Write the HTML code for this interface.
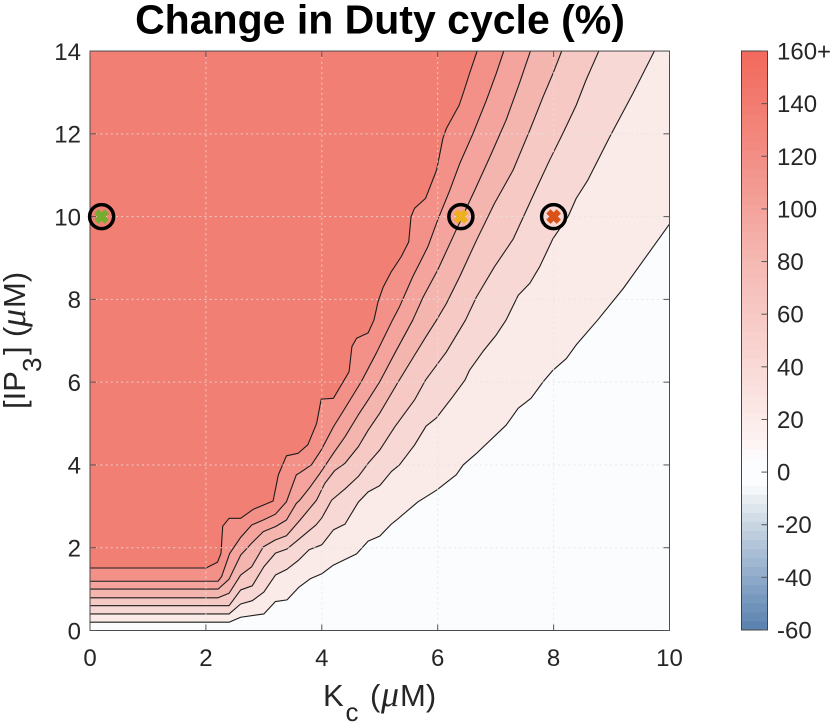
<!DOCTYPE html>
<html lang="en">
<head>
<meta charset="utf-8">
<title>Change in Duty cycle (%)</title>
<style>
html,body{margin:0;padding:0;background:#fff;width:830px;height:724px;overflow:hidden}
svg{display:block}
text{font-family:"Liberation Sans",sans-serif;fill:#262626}
.mu{font-family:"Liberation Serif",serif;font-style:italic}
</style>
</head>
<body>
<svg id="chart" xmlns="http://www.w3.org/2000/svg" width="830" height="724" viewBox="0 0 830 724">
  <text x="380" y="33.5" text-anchor="middle" font-size="41" font-weight="bold" style="fill:#000">Change in Duty cycle (%)</text>
  <rect x="90" y="51" width="579.5" height="579.5" fill="#fbfcfe"/>
  <g id="bands"></g>
  <g id="lines"></g>
  <g id="grid"></g>
  <g id="axes"></g>
  <g id="markers"></g>
  <g id="colorbar"></g>
  <text y="706" font-size="31"><tspan x="323">K</tspan><tspan x="345.5" font-size="26" dy="15">c</tspan><tspan x="370" dy="-15">(</tspan><tspan x="381" class="mu" font-size="36">μ</tspan><tspan x="400">M)</tspan></text>
  <text transform="translate(25,408) rotate(-90)" y="0" font-size="31"><tspan x="-1">[IP</tspan><tspan x="36" font-size="26" dy="16">3</tspan><tspan x="53" dy="-16">]</tspan><tspan x="71">(</tspan><tspan x="81" class="mu" font-size="36">μ</tspan><tspan x="100">M)</tspan></text>
</svg>
<script>
var xTicks = [0, 2, 4, 6, 8, 10];
var yTicks = [0, 2, 4, 6, 8, 10, 12, 14];
var colorbarTicks = [-60, -40, -20, 0, 20, 40, 60, 80, 100, 120, 140, 160];
var colorbarTickLabels = ['-60', '-40', '-20', '0', '20', '40', '60', '80', '100', '120', '140', '160+'];

var contour1Kc = [0, 2.4, 2.6, 3.0, 3.2, 3.4, 3.6, 3.8, 4.0, 4.2, 4.6, 4.8, 5.0, 5.2, 5.29, 5.66, 5.98, 6.32, 6.44, 6.67, 7.18, 7.39, 7.61, 7.82, 7.99, 8.22, 8.39, 8.76, 9.2, 10];
var contour1Ip = [0.2, 0.2, 0.32, 0.4, 0.7, 0.74, 1.04, 1.25, 1.37, 1.58, 1.85, 2.16, 2.28, 2.57, 2.67, 3.11, 3.39, 3.76, 4.0, 4.28, 4.96, 5.37, 5.61, 6.01, 6.29, 6.57, 6.9, 7.5, 8.26, 9.82];
var contour2Kc = [0, 2.4, 2.6, 2.8, 3.0, 3.2, 3.4, 3.6, 3.78, 4.0, 4.2, 4.4, 4.63, 4.8, 5.0, 5.2, 5.34, 5.6, 5.8, 5.98, 6.26, 6.47, 6.55, 6.78, 7.01, 7.18, 7.39, 7.59, 7.76, 7.99, 8.25, 8.39, 8.59, 8.97, 9.37, 9.74];
var contour2Ip = [0.4, 0.4, 0.64, 0.72, 0.93, 1.34, 1.48, 1.7, 1.95, 2.07, 2.43, 2.57, 3.1, 3.35, 3.5, 3.84, 4.0, 4.48, 4.94, 5.14, 5.65, 6.05, 6.29, 6.74, 7.14, 7.5, 8.1, 8.39, 8.79, 9.47, 10.0, 10.44, 10.88, 11.93, 12.98, 14];
var contour3Kc = [0, 2.4, 2.6, 2.8, 3.0, 3.2, 3.4, 3.6, 3.9, 4.0, 4.17, 4.4, 4.63, 4.8, 5.0, 5.26, 5.6, 5.79, 6.15, 6.48, 6.67, 6.98, 7.3, 7.69, 7.93, 8.16, 8.39, 8.56, 8.78];
var contour3Ip = [0.6, 0.6, 0.98, 1.08, 1.54, 1.87, 1.97, 2.2, 2.55, 2.72, 3.15, 3.42, 3.72, 4.04, 4.36, 4.92, 5.57, 6.05, 6.73, 7.5, 8.06, 8.79, 9.45, 10.64, 11.36, 12.01, 12.69, 13.3, 14];
var contour4Kc = [0, 2.21, 2.4, 2.6, 2.79, 2.99, 3.2, 3.39, 3.62, 3.91, 4.05, 4.22, 4.4, 4.63, 4.8, 5.0, 5.32, 5.6, 5.78, 5.98, 6.15, 6.38, 6.67, 6.98, 7.3, 7.59, 7.82, 7.99, 8.14];
var contour4Ip = [0.79, 0.79, 0.9, 1.34, 1.54, 2.02, 2.19, 2.29, 2.66, 3.15, 3.55, 3.86, 4.04, 4.44, 4.84, 5.25, 6.01, 6.65, 7.06, 7.5, 7.9, 8.55, 9.43, 10.32, 11.12, 12.09, 12.9, 13.46, 14];
var contour5Kc = [0, 2.21, 2.4, 2.6, 2.79, 2.99, 3.2, 3.39, 3.56, 3.62, 3.79, 3.97, 4.2, 4.4, 4.63, 4.8, 5.0, 5.26, 5.57, 5.75, 6.0, 6.29, 6.64, 6.9, 7.18, 7.41, 7.6];
var contour5Ip = [1.0, 1.0, 1.24, 1.82, 2.11, 2.39, 2.51, 2.67, 3.07, 3.15, 3.45, 3.8, 4.28, 4.68, 5.21, 5.57, 6.01, 6.7, 7.5, 8.06, 8.71, 9.59, 10.64, 11.44, 12.33, 13.22, 14];
var contour6Kc = [0, 2.21, 2.27, 2.41, 2.6, 2.79, 2.99, 3.2, 3.39, 3.56, 3.62, 3.82, 3.99, 4.2, 4.4, 4.68, 4.94, 5.22, 5.34, 5.57, 5.83, 6.0, 6.21, 6.38, 6.61, 6.84, 7.01, 7.14];
var contour6Ip = [1.19, 1.19, 1.3, 1.86, 2.25, 2.55, 2.67, 2.81, 3.11, 3.76, 3.81, 4.0, 4.36, 4.92, 5.37, 6.01, 6.7, 7.5, 7.82, 8.55, 9.27, 9.92, 10.64, 11.28, 12.01, 12.81, 13.46, 14];
var contour7Kc = [0, 2.0, 2.2, 2.26, 2.29, 2.4, 2.6, 2.82, 2.99, 3.16, 3.25, 3.39, 3.59, 3.76, 3.91, 3.99, 4.2, 4.47, 4.52, 4.6, 4.8, 4.9, 4.97, 5.06, 5.2, 5.37, 5.5, 5.54, 5.6, 5.79, 5.98, 6.09, 6.15, 6.37, 6.44, 6.55, 6.68];
var contour7Ip = [1.51, 1.51, 1.65, 1.86, 2.52, 2.71, 2.71, 2.93, 3.03, 3.13, 3.76, 4.22, 4.28, 4.49, 5.0, 5.59, 5.61, 6.25, 6.86, 7.06, 7.19, 7.5, 7.94, 8.3, 8.67, 9.03, 9.39, 10.0, 10.2, 10.44, 11.12, 11.89, 12.13, 12.69, 12.98, 13.46, 14];

var contourKc = [contour1Kc, contour2Kc, contour3Kc, contour4Kc, contour5Kc, contour6Kc, contour7Kc];
var contourIp = [contour1Ip, contour2Ip, contour3Ip, contour4Ip, contour5Ip, contour6Ip, contour7Ip];
var bandColors = ['#faeae8', '#f7d8d5', '#f6c9c4', '#f4b5af', '#f4a49d', '#f39189', '#f27f73'];

var markerKc = [0.2, 6.4, 8];
var markerIp = [10, 10, 10];
var markerColors = ['#77ac30', '#edb120', '#d95319'];

var colorStopValues = [-60, -40, -20, -10, -5, 5, 10, 40, 80, 120, 160];
var colorStopColors = ['#5880ae', '#8eaac9', '#c8d6e3', '#e8edf2', '#fcfdff', '#fcfdff', '#fdf5f4', '#f9d9d6', '#f5b9b3', '#f28e85', '#f2695c'];
var colorbarSteps = 64;

var NS = 'http://www.w3.org/2000/svg';
function px(v) { return 90 + v * 57.95; }
function py(v) { return 630.5 - v * 41.39; }
function cy(v) { return 630 - (v + 60) * 579 / 220; }
function make(tag, parent, attrs) {
  var el = document.createElementNS(NS, tag);
  for (var k in attrs) el.setAttribute(k, attrs[k]);
  parent.appendChild(el);
  return el;
}
function hex(c) { return [1, 3, 5].map(function (i) { return parseInt(c.substr(i, 2), 16); }); }
function colorAt(v) {
  for (var i = 0; i < colorStopValues.length - 1; i++) {
    if (v <= colorStopValues[i + 1]) {
      var t = (v - colorStopValues[i]) / (colorStopValues[i + 1] - colorStopValues[i]);
      var a = hex(colorStopColors[i]), b = hex(colorStopColors[i + 1]);
      return 'rgb(' + a.map(function (x, j) { return Math.round(x + (b[j] - x) * t); }).join(',') + ')';
    }
  }
  return colorStopColors[colorStopColors.length - 1];
}

var bands = document.getElementById('bands');
var lines = document.getElementById('lines');
contourKc.forEach(function (kc, i) {
  var ip = contourIp[i];
  var d = kc.map(function (k, j) { return (j ? 'L' : 'M') + px(k).toFixed(2) + ' ' + py(ip[j]).toFixed(2); }).join(' ');
  var close = d;
  if (ip[ip.length - 1] < 14) close += ' L' + px(10) + ' ' + py(14);
  close += ' L' + px(0) + ' ' + py(14) + ' Z';
  var band = make('path', bands, { d: close, fill: bandColors[i] });
  
  
  var line = make('path', lines, { d: d, fill: 'none', stroke: '#1c1c1c', 'stroke-width': 1.1, 'stroke-linejoin': 'round' });
  
  
});

var grid = document.getElementById('grid');
var gridStyle = { stroke: '#e4e4e4', 'stroke-width': 1, 'stroke-dasharray': '2 3.2', opacity: 0.8 };
xTicks.slice(1, -1).forEach(function (t) {
  var g = make('line', grid, Object.assign({ x1: px(t), x2: px(t), y1: py(0), y2: py(14) }, gridStyle));
  
  
});
yTicks.slice(1, -1).forEach(function (t) {
  var g = make('line', grid, Object.assign({ x1: px(0), x2: px(10), y1: py(t), y2: py(t) }, gridStyle));
  
  
});

var axes = document.getElementById('axes');
var box = make('rect', axes, { x: px(0), y: py(14), width: px(10) - px(0), height: py(0) - py(14), fill: 'none', stroke: '#4a4a4a', 'stroke-width': 1 });


xTicks.forEach(function (t, i) {
  var a = make('line', axes, { x1: px(t), x2: px(t), y1: py(0), y2: py(0) - 6, stroke: '#555', 'stroke-width': 1 });
  
  
  var b = make('line', axes, { x1: px(t), x2: px(t), y1: py(14), y2: py(14) + 6, stroke: '#555', 'stroke-width': 1 });
  
  
  var l = make('text', axes, { x: px(t), y: 666, 'text-anchor': 'middle', 'font-size': 24 });
  
  
  l.textContent = String(xTicks[i]);
});
yTicks.forEach(function (t, i) {
  var a = make('line', axes, { x1: px(0), x2: px(0) + 6, y1: py(t), y2: py(t), stroke: '#555', 'stroke-width': 1 });
  
  
  var b = make('line', axes, { x1: px(10), x2: px(10) - 6, y1: py(t), y2: py(t), stroke: '#555', 'stroke-width': 1 });
  
  
  var l = make('text', axes, { x: 81, y: py(t) + 8.8, 'text-anchor': 'end', 'font-size': 24 });
  
  
  l.textContent = String(yTicks[i]);
});

var markers = document.getElementById('markers');
markerKc.forEach(function (k, i) {
  var x = px(k), y = py(markerIp[i]), s = 5.2;
  var c1 = make('line', markers, { x1: x - s, y1: y - s, x2: x + s, y2: y + s, stroke: markerColors[i], 'stroke-width': 6 });
  
  
  var c2 = make('line', markers, { x1: x - s, y1: y + s, x2: x + s, y2: y - s, stroke: markerColors[i], 'stroke-width': 6 });
  
  
  var ring = make('circle', markers, { cx: x, cy: y, r: 12, fill: 'none', stroke: '#000', 'stroke-width': 3.5 });
  
  
});

var cb = document.getElementById('colorbar');
var cbMin = colorbarTicks[0];
var cbMax = colorbarTicks[colorbarTicks.length - 1];
var cbStep = (cbMax - cbMin) / colorbarSteps;
for (var s = 0; s < colorbarSteps; s++) {
  var lo = cbMin + s * cbStep;
  var seg = make('rect', cb, { x: 741.5, y: cy(lo + cbStep), width: 26, height: cy(lo) - cy(lo + cbStep) + 0.5, fill: colorAt(lo + cbStep / 2) });
  
  
}
var cbBox = make('rect', cb, { x: 741.5, y: cy(cbMax), width: 26, height: cy(cbMin) - cy(cbMax), fill: 'none', stroke: '#444', 'stroke-width': 1 });


colorbarTicks.forEach(function (t, i) {
  var m = make('line', cb, { x1: 767.5, x2: 761.5, y1: cy(t), y2: cy(t), stroke: '#555', 'stroke-width': 1 });
  
  
  var l = make('text', cb, { x: 777, y: cy(t) + 8.5, 'font-size': 24 });
  
  
  l.textContent = colorbarTickLabels[i];
});
</script>
</body>
</html>
